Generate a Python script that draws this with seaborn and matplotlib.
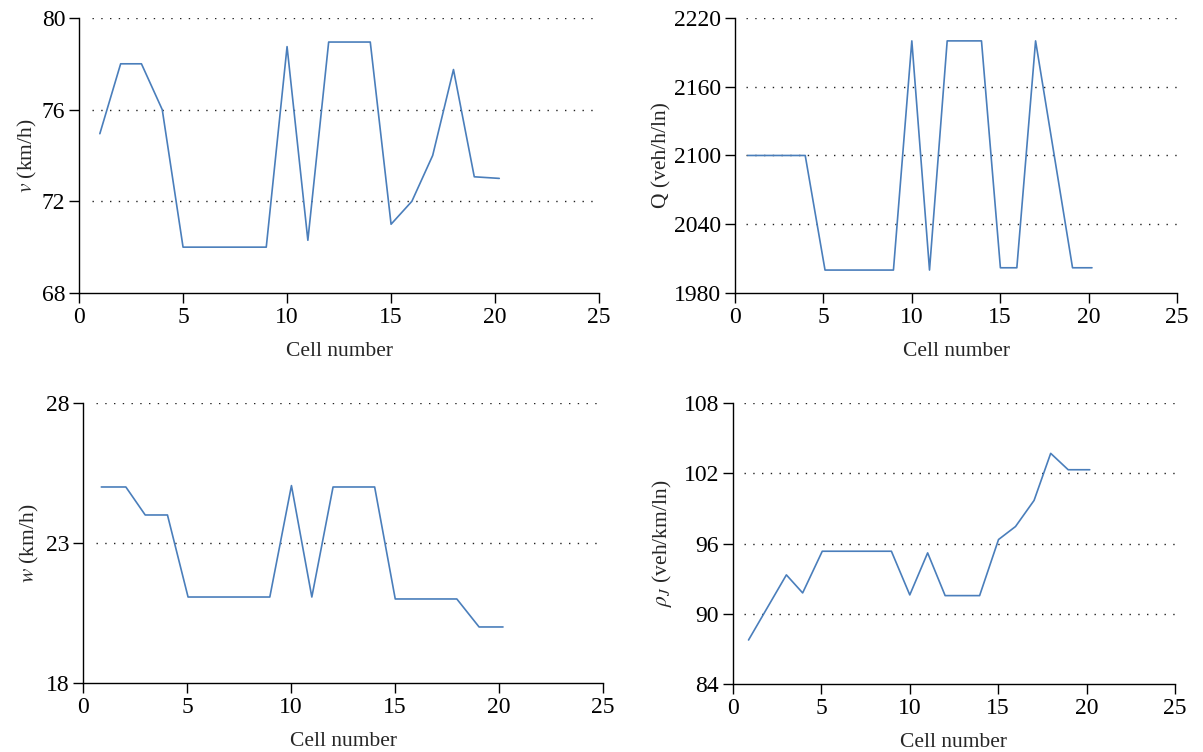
import numpy as np
import pandas as pd
import matplotlib
matplotlib.use("Agg")
import matplotlib.pyplot as plt
import seaborn as sns

# speed v (km/h)
v_cell = [1, 2, 3, 4, 5, 6, 7, 8, 9, 10, 11, 12, 13, 14, 15, 16, 17, 18, 19, 20.2]
v_val = [74.95, 78.0, 78.0, 76.0, 70.0, 70.0, 70.0, 70.0, 70.0, 78.75, 70.3, 78.95,
         78.95, 78.95, 71.0, 72.0, 74.0, 77.75, 73.07, 73.0]

# capacity Q (veh/h/ln)
q_cell = [0.73, 3.97, 5.09, 8.96, 10.0, 11.0, 12.0, 13.94, 15.01, 15.94, 17.0, 19.09, 20.19]
q_val = [2100, 2100, 2000, 2000, 2200, 2000, 2200, 2200, 2002, 2002, 2200, 2002, 2002]

# backward wave speed w (km/h)
w_cell = [0.88, 2.06, 2.99, 4.06, 5.05, 8.98, 10.02, 11.0, 12.02, 14.02, 15.01, 17.97, 19.04, 20.19]
w_val = [25.0, 25.0, 24.0, 24.0, 21.07, 21.07, 25.05, 21.07, 25.0, 25.0, 21.0, 21.0, 20.0, 20.0]

# jam density rho_J (veh/km/ln)
r_cell = [0.88, 3.02, 3.94, 5.05, 8.96, 10.0, 11.01, 12.0, 13.95, 15.02, 15.98, 17.03, 17.97, 18.96, 20.18]
r_val = [87.76, 93.32, 91.78, 95.34, 95.34, 91.61, 95.2, 91.55, 91.55, 96.34, 97.45, 99.68,
         103.7, 102.3, 102.3]

sns.set_style("ticks")
plt.rcParams["font.family"] = ["Liberation Serif", "DejaVu Serif"]
plt.rcParams["mathtext.fontset"] = "stix"

line_color = "#4a7ebb"
label_fs = 15.5
tick_fs = 17

fig = plt.figure(figsize=(12.03, 7.52), dpi=100)
panels = [
    ([0.0657, 0.6104, 0.4323, 0.3657], v_cell, v_val, (68, 80), [68, 72, 76, 80], r"$v$ (km/h)", 2),
    ([0.6110, 0.6104, 0.3674, 0.3657], q_cell, q_val, (1980, 2220), [1980, 2040, 2100, 2160, 2220], "Q (veh/h/ln)", 2),
    ([0.0690, 0.0918, 0.4323, 0.3723], w_cell, w_val, (18, 28), [18, 23, 28], r"$w$ (km/h)", 3),
    ([0.6093, 0.0904, 0.3674, 0.3737], r_cell, r_val, (84, 108), [84, 90, 96, 102, 108], r"$\rho_J$ (veh/km/ln)", 7),
]

for rect, xs, ys, ylim, yticks, ylabel, ypad in panels:
    ax = fig.add_axes(rect)
    df = pd.DataFrame({"cell": xs, "val": ys})
    sns.lineplot(data=df, x="cell", y="val", ax=ax, color=line_color, linewidth=1.2)
    ax.set_xlim(0, 25)
    ax.set_ylim(*ylim)
    ax.set_xticks([0, 5, 10, 15, 20, 25])
    ax.set_yticks(yticks)
    for t in yticks[1:]:
        ax.axhline(t, xmin=0.025, xmax=1.0, color="#222222", linestyle=(0, (1, 5.3)),
                   linewidth=1.0, zorder=0)
    ax.set_xlabel("Cell number", fontsize=label_fs, labelpad=10)
    ax.set_ylabel(ylabel, fontsize=label_fs, labelpad=ypad)
    ax.tick_params(axis="both", labelsize=tick_fs, direction="out", length=7, width=1,
                   pad=3, colors="black")
    sns.despine(ax=ax)
    for s in ["left", "bottom"]:
        ax.spines[s].set_color("black")
        ax.spines[s].set_linewidth(1.0)

fig.savefig("out.png", dpi=100)
